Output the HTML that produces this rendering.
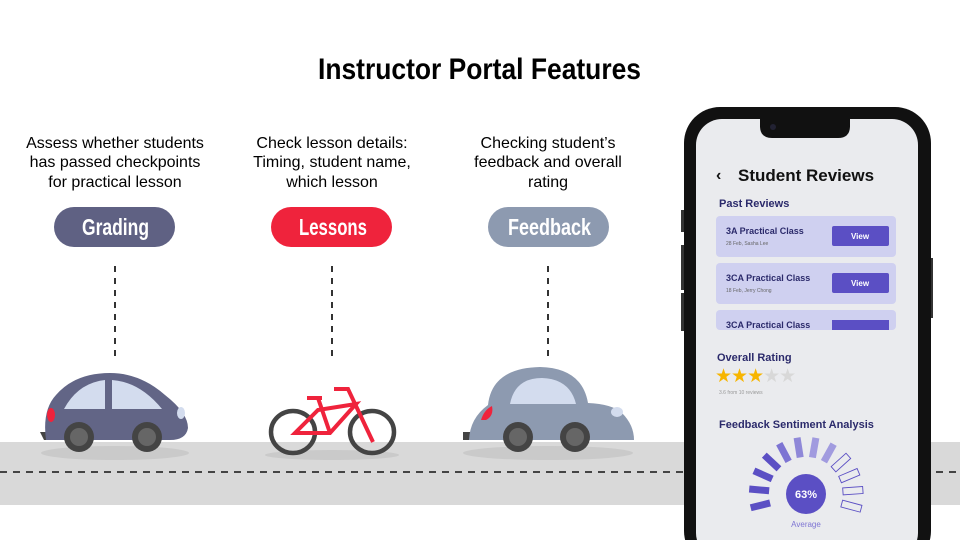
<!DOCTYPE html>
<html><head><style>
body{margin:0;width:960px;height:540px;overflow:hidden;background:#fff}
svg{display:block}
.n{font-family:"Liberation Sans Narrow","Liberation Sans",sans-serif;font-weight:bold}
.s{font-family:"Liberation Sans",sans-serif}
</style></head><body>
<svg width="960" height="540" viewBox="0 0 960 540">
<rect x="0" y="0" width="960" height="540" fill="#fff"/>
<text x="318" y="79" textLength="323" lengthAdjust="spacingAndGlyphs" class="n" font-size="30" fill="#000">Instructor Portal Features</text>
<g class="s" font-size="16" fill="#000" text-anchor="middle">
<text x="115" y="148">Assess whether students</text><text x="115" y="167">has passed checkpoints</text><text x="115" y="187">for practical lesson</text>
<text x="332" y="148">Check lesson details:</text><text x="332" y="167">Timing, student name,</text><text x="332" y="187">which lesson</text>
<text x="548" y="148">Checking student’s</text><text x="548" y="167">feedback and overall</text><text x="548" y="187">rating</text>
</g>
<rect x="54" y="207" width="121" height="40" rx="20" fill="#5f6183"/>
<rect x="271" y="207" width="121" height="40" rx="20" fill="#ef233c"/>
<rect x="488" y="207" width="121" height="40" rx="20" fill="#8d9ab0"/>
<g class="n" font-size="23" fill="#fff">
<text x="82" y="235" textLength="67" lengthAdjust="spacingAndGlyphs">Grading</text>
<text x="299" y="235" textLength="68" lengthAdjust="spacingAndGlyphs">Lessons</text>
<text x="508" y="235" textLength="83" lengthAdjust="spacingAndGlyphs">Feedback</text></g>
<g stroke="#333" stroke-width="2" stroke-dasharray="6,6">
<line x1="115" y1="266" x2="115" y2="358"/><line x1="332" y1="266" x2="332" y2="358"/><line x1="548" y1="266" x2="548" y2="358"/></g>
<!-- road -->
<rect x="0" y="442" width="960" height="63" fill="#d9d9d9"/>
<line x1="0" y1="472" x2="960" y2="472" stroke="#444" stroke-width="2" stroke-dasharray="7,6"/>
<ellipse cx="115" cy="453" rx="74" ry="7" fill="#cacaca"/>
<ellipse cx="332" cy="455" rx="67" ry="5" fill="#cacaca"/>
<ellipse cx="548" cy="453" rx="85" ry="7" fill="#cacaca"/>
<!-- car1 -->
<path d="M40 432 L50 432 L52 440 L44 440 Z" fill="#444"/>
<path d="M46 440 Q42 410 56 395 Q75 373 110 373 Q140 373 165 395 Q188 413 188 428 Q186 440 170 440 Z" fill="#626586"/>
<path d="M64 409 Q78 383 105 380 L105 409 Z" fill="#d3dcee"/>
<path d="M112 380 Q140 382 162 409 L112 409 Z" fill="#d3dcee"/>
<ellipse cx="51" cy="415" rx="4" ry="7" fill="#ef233c"/>
<ellipse cx="181" cy="413" rx="4" ry="6" fill="#d3dcee"/>
<circle cx="79" cy="437" r="15" fill="#444"/><circle cx="79" cy="437" r="9" fill="#666"/>
<circle cx="147" cy="437" r="15" fill="#444"/><circle cx="147" cy="437" r="9" fill="#666"/>
<!-- bike -->
<ellipse cx="293" cy="432" rx="22" ry="21" fill="none" stroke="#444" stroke-width="4.5"/>
<ellipse cx="372" cy="432" rx="22" ry="21" fill="none" stroke="#444" stroke-width="4.5"/>
<g stroke="#ef233c" stroke-width="4" fill="none" stroke-linejoin="miter">
<path d="M295 433 L330 433 L356 404 L318 410 Z"/>
<path d="M318 398 L330 433"/><path d="M307 398 L322 398"/>
<path d="M334 389 L348 389 L373 442"/></g>
<!-- car3 -->
<rect x="463" y="432" width="10" height="8" fill="#444"/>
<path d="M469 440 Q470 418 488 405 Q492 368 540 367 Q582 368 588 403 Q612 404 622 413 Q634 425 634 440 Z" fill="#8d9ab0"/>
<path d="M510 404 Q515 378 542 378 Q570 379 576 404 Z" fill="#d3dcee"/>
<path d="M481 420 Q484 410 492 406 Q494 416 486 420 Z" fill="#ef233c"/>
<ellipse cx="617" cy="412" rx="6" ry="5" fill="#d3dcee"/>
<circle cx="518" cy="437" r="15" fill="#444"/><circle cx="518" cy="437" r="9" fill="#666"/>
<circle cx="575" cy="437" r="15" fill="#444"/><circle cx="575" cy="437" r="9" fill="#666"/>
<!-- phone -->
<rect x="681" y="210" width="4" height="22" fill="#333"/><rect x="681" y="245" width="4" height="45" fill="#333"/><rect x="681" y="293" width="4" height="38" fill="#333"/>
<rect x="929" y="258" width="4" height="60" fill="#333"/>
<rect x="684" y="107" width="247" height="460" rx="36" fill="#111"/>
<rect x="696" y="119" width="222" height="440" rx="26" fill="#eaebee"/>
<path d="M760 118 L850 118 L850 126 Q850 138 838 138 L772 138 Q760 138 760 126 Z" fill="#111"/>
<circle cx="773" cy="127" r="3" fill="#223"/>
<text x="716" y="180" class="s" font-size="16" font-weight="bold" fill="#111">‹</text>
<text x="738" y="181" class="s" font-size="17" font-weight="bold" fill="#111">Student Reviews</text>
<text x="719" y="207" class="s" font-size="11" font-weight="bold" fill="#2b2a6b">Past Reviews</text>
<g class="s">
<rect x="716" y="216" width="180" height="41" rx="4" fill="#cfd0f0"/>
<text x="726" y="234" font-size="9" font-weight="bold" fill="#2b2a6b">3A Practical Class</text>
<text x="726" y="245" font-size="5" fill="#666">28 Feb, Sasha Lee</text>
<rect x="832" y="226" width="57" height="20" rx="2" fill="#5b4fc4"/>
<text x="860" y="239" font-size="8" font-weight="bold" fill="#fff" text-anchor="middle">View</text>
<rect x="716" y="263" width="180" height="41" rx="4" fill="#cfd0f0"/>
<text x="726" y="281" font-size="9" font-weight="bold" fill="#2b2a6b">3CA Practical Class</text>
<text x="726" y="292" font-size="5" fill="#666">18 Feb, Jerry Chong</text>
<rect x="832" y="273" width="57" height="20" rx="2" fill="#5b4fc4"/>
<text x="860" y="286" font-size="8" font-weight="bold" fill="#fff" text-anchor="middle">View</text>
<rect x="716" y="310" width="180" height="20" rx="4" fill="#cfd0f0"/>
<rect x="832" y="320" width="57" height="10" fill="#5b4fc4"/>
<text x="726" y="328" font-size="9" font-weight="bold" fill="#2b2a6b">3CA Practical Class</text>
<text x="717" y="361" font-size="11" font-weight="bold" fill="#2b2a6b">Overall Rating</text>
<text x="715" y="382" font-size="19" fill="#f7b500" letter-spacing="-1">★★★<tspan fill="#d8d8d8">★★</tspan></text>
<text x="719" y="394" font-size="5" fill="#999">3.6 from 10 reviews</text>
<text x="719" y="428" font-size="11" font-weight="bold" fill="#2b2a6b">Feedback Sentiment Analysis</text>
</g>
<g transform="translate(806,494)">
<g fill="#5b4fc4">
<rect x="-57" y="-3.5" width="20" height="7" transform="rotate(-14)"/>
<rect x="-57" y="-3.5" width="20" height="7" transform="rotate(5)"/>
<rect x="-57" y="-3.5" width="20" height="7" transform="rotate(24)"/>
<rect x="-57" y="-3.5" width="20" height="7" transform="rotate(43)"/>
<rect x="-57" y="-3.5" width="20" height="7" transform="rotate(62)" fill="#7d74d3"/>
<rect x="-57" y="-3.5" width="20" height="7" transform="rotate(81)" fill="#8f88d8"/>
<rect x="-57" y="-3.5" width="20" height="7" transform="rotate(100)" fill="#a19bdf"/>
<rect x="-57" y="-3.5" width="20" height="7" transform="rotate(119)" fill="#a19bdf"/>
</g>
<g fill="none" stroke="#5b4fc4" stroke-width="0.9">
<rect x="-57" y="-3.5" width="20" height="7" transform="rotate(138)"/>
<rect x="-57" y="-3.5" width="20" height="7" transform="rotate(157)"/>
<rect x="-57" y="-3.5" width="20" height="7" transform="rotate(176)"/>
<rect x="-57" y="-3.5" width="20" height="7" transform="rotate(195)"/>
</g>
<circle r="20" fill="#5b4fc4"/>
<text y="4" class="s" font-size="11" font-weight="bold" fill="#fff" text-anchor="middle">63%</text>
<text y="33" class="s" font-size="8" fill="#7d74d3" text-anchor="middle">Average</text>
</g>
</svg>
</body></html>
